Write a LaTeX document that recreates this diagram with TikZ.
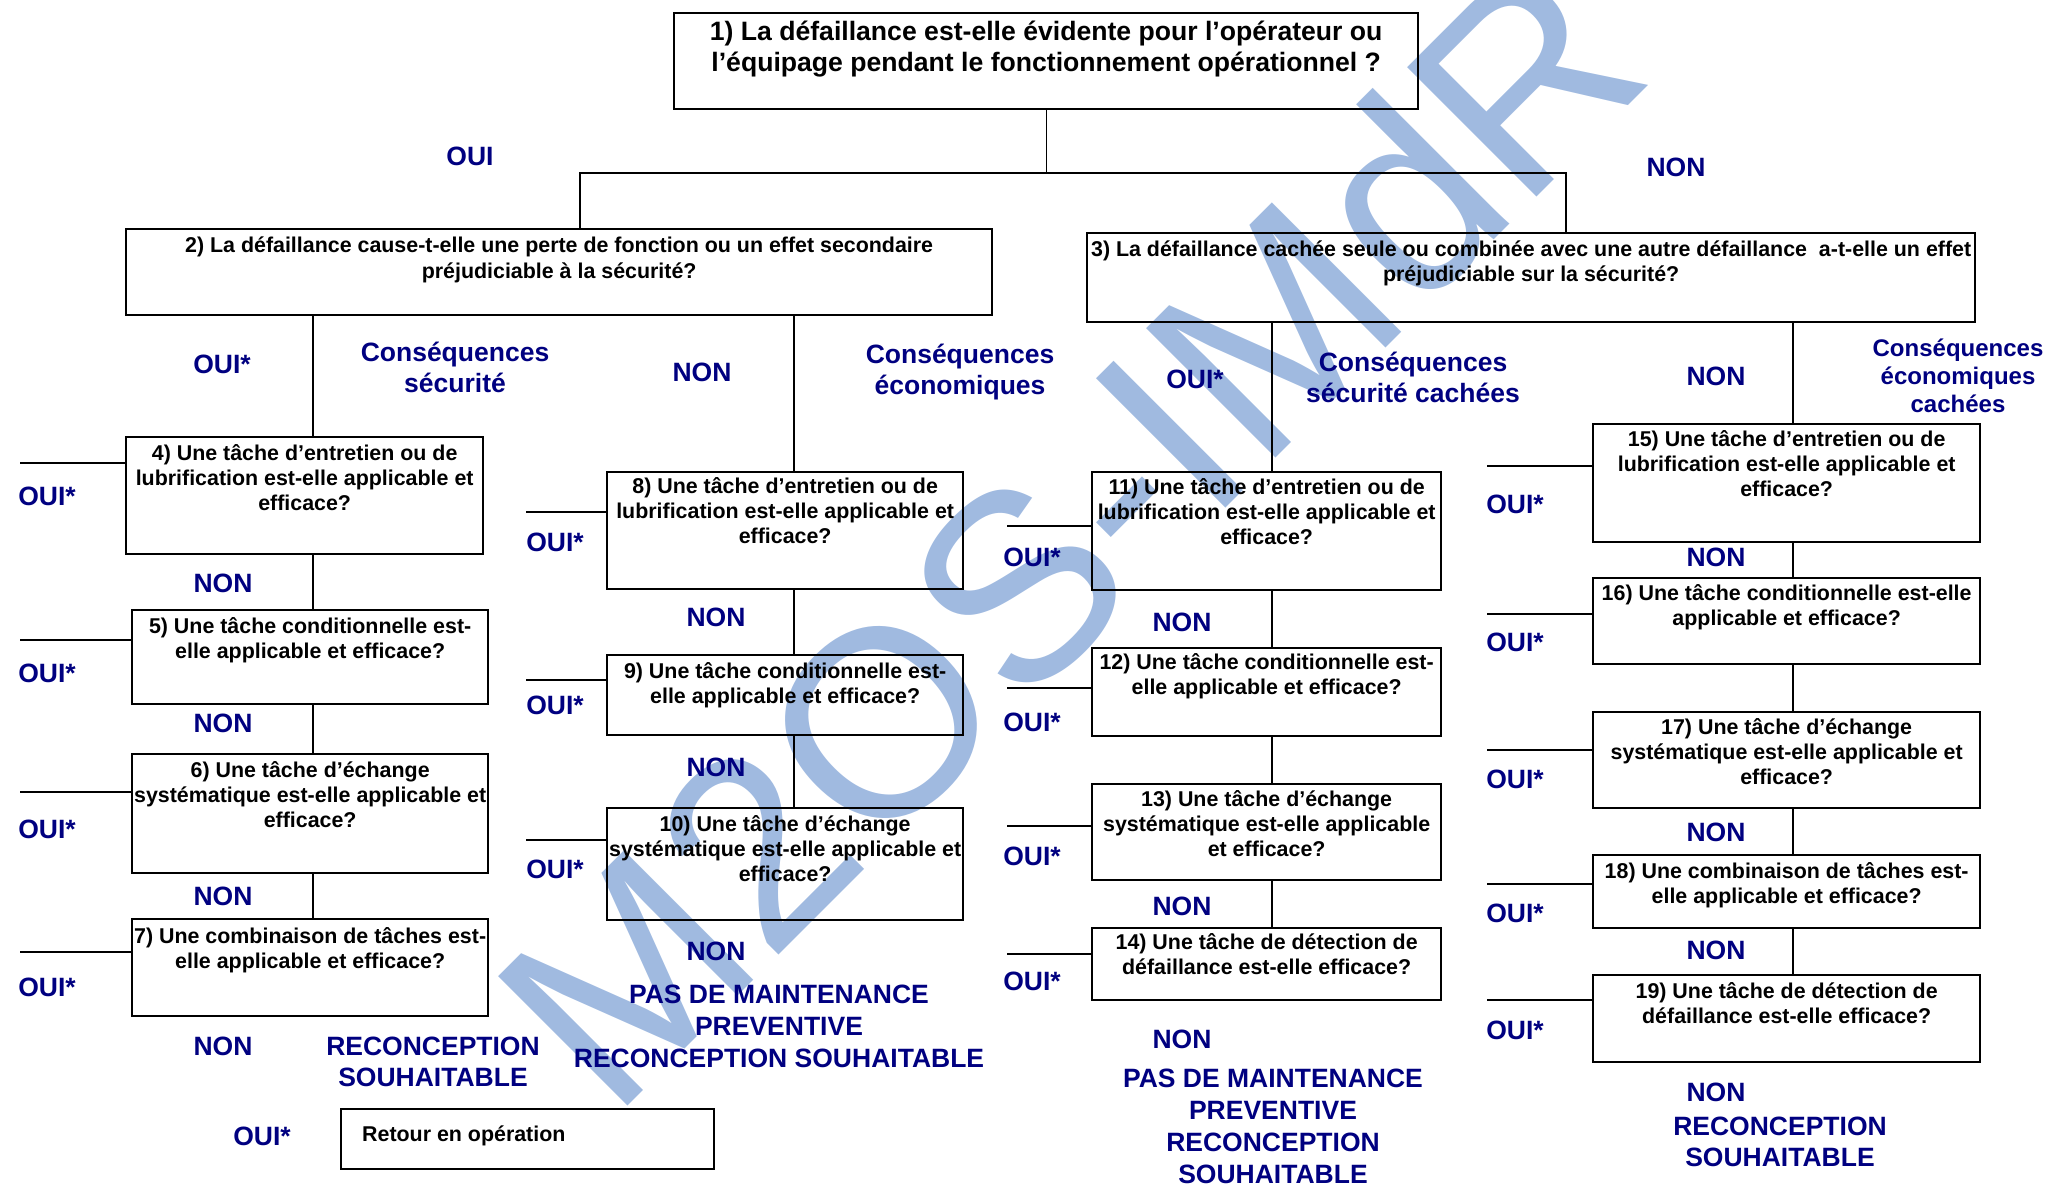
\documentclass[tikz,border=0pt]{standalone}
\usepackage{fontspec}
\setmainfont{Liberation Sans}
\definecolor{navy}{RGB}{0,0,128}
\definecolor{wmblue}{RGB}{160,186,224}
\newcommand\cl[1]{\vtop{\halign{\hfil##\hfil\cr#1\crcr}}}
\newcommand\boxfont{\fontsize{21.4bp}{25bp}\selectfont\bfseries}
\newcommand\labfont{\fontsize{26.5bp}{31bp}\selectfont\bfseries}
\tikzset{
  qb/.style n args={3}{draw, line width=2.3bp, inner sep=0pt, anchor=north west,
     minimum width=#1, text height=#2, text depth=#3, font=\boxfont},
  lab/.style={text=navy, font=\labfont, align=center, inner sep=0pt},
  biglab/.style={lab, font=\fontsize{26.5bp}{32bp}\selectfont\bfseries},
  conn/.style={line width=1.3bp},
  stub/.style={line width=1.8bp},
  wmark/.style={text=wmblue, font=\fontsize{266bp}{266bp}\selectfont, rotate=45, anchor=base, inner sep=0pt},
}
\begin{document}
\begin{tikzpicture}[x=1bp,y=-1bp]
\useasboundingbox (0,0) rectangle (2049,1183);
% watermark
\node[wmark] (wm) at (1135,599) {M2OS-IMdR};
% boxes
\node[qb={744bp}{27bp}{69bp}, font=\fontsize{26.6bp}{31bp}\selectfont\bfseries] (b1) at (673,12)
  {\cl{1) La défaillance est-elle évidente pour l’opérateur ou\cr l’équipage pendant le fonctionnement opérationnel ?}};
\node[qb={866bp}{23bp}{63bp}, font=\fontsize{21.4bp}{26bp}\selectfont\bfseries] (b2) at (125,228)
  {\cl{2) La défaillance cause-t-elle une perte de fonction ou un effet secondaire\cr préjudiciable à la sécurité?}};
\node[qb={888bp}{23bp}{66bp}] (b3) at (1086,232)
  {\cl{3) La défaillance cachée seule ou combinée avec une autre défaillance\ \ a-t-elle un effet\cr préjudiciable sur la sécurité?}};
\node[qb={357bp}{23bp}{94bp}] (b4) at (125,436)
  {\cl{4) Une tâche d’entretien ou de\cr lubrification est-elle applicable et\cr efficace?}};
\node[qb={356bp}{23bp}{71bp}] (b5) at (131,609)
  {\cl{5) Une tâche conditionnelle est-\cr elle applicable et efficace?}};
\node[qb={356bp}{23bp}{96bp}] (b6) at (131,753)
  {\cl{6) Une tâche d’échange\cr systématique est-elle applicable et\cr efficace?}};
\node[qb={356bp}{24bp}{73bp}] (b7) at (131,918)
  {\cl{7) Une combinaison de tâches est-\cr elle applicable et efficace?}};
\node[qb={356bp}{21bp}{96bp}] (b8) at (606,471)
  {\cl{8) Une tâche d’entretien ou de\cr lubrification est-elle applicable et\cr efficace?}};
\node[qb={356bp}{23bp}{57bp}] (b9) at (606,654)
  {\cl{9) Une tâche conditionnelle est-\cr elle applicable et efficace?}};
\node[qb={356bp}{23bp}{89bp}] (b10) at (606,807)
  {\cl{10) Une tâche d’échange\cr systématique est-elle applicable et\cr efficace?}};
\node[qb={349bp}{22bp}{96bp}] (b11) at (1091,471)
  {\cl{11) Une tâche d’entretien ou de\cr lubrification est-elle applicable et\cr efficace?}};
\node[qb={349bp}{21bp}{67bp}] (b12) at (1091,647)
  {\cl{12) Une tâche conditionnelle est-\cr elle applicable et efficace?}};
\node[qb={349bp}{22bp}{74bp}] (b13) at (1091,783)
  {\cl{13) Une tâche d’échange\cr systématique est-elle applicable\cr et efficace?}};
\node[qb={349bp}{21bp}{51bp}] (b14) at (1091,927)
  {\cl{14) Une tâche de détection de\cr défaillance est-elle efficace?}};
\node[qb={387bp}{22bp}{96bp}] (b15) at (1592,423)
  {\cl{15) Une tâche d’entretien ou de\cr lubrification est-elle applicable et\cr efficace?}};
\node[qb={387bp}{22bp}{64bp}] (b16) at (1592,577)
  {\cl{16) Une tâche conditionnelle est-elle\cr applicable et efficace?}};
\node[qb={387bp}{22bp}{74bp}] (b17) at (1592,711)
  {\cl{17) Une tâche d’échange\cr systématique est-elle applicable et\cr efficace?}};
\node[qb={387bp}{23bp}{50bp}] (b18) at (1592,854)
  {\cl{18) Une combinaison de tâches est-\cr elle applicable et efficace?}};
\node[qb={387bp}{23bp}{64bp}] (b19) at (1592,974)
  {\cl{19) Une tâche de détection de\cr défaillance est-elle efficace?}};
\node[qb={373bp}{32bp}{28bp}] (ret) at (340,1108)
  {\makebox[373bp][l]{\hspace{21bp}Retour en opération}};
% connectors
\coordinate (jy) at (0,173);
\coordinate (xL) at (580,0);
\coordinate (xR) at (1566,0);
\coordinate (cA) at (313,0);
\coordinate (cB) at (794,0);
\coordinate (cC) at (1272,0);
\coordinate (cD) at (1793,0);
\draw[conn] (b1.south) -- (b1.south |- jy);
\draw[conn] (b2.north -| xL) -- (xL |- jy) -- (xR |- jy) -- (b3.north -| xR);
\draw[conn] (b2.south -| cA) -- (b4.north -| cA);
\draw[conn] (b4.south -| cA) -- (b5.north -| cA);
\draw[conn] (b5.south -| cA) -- (b6.north -| cA);
\draw[conn] (b6.south -| cA) -- (b7.north -| cA);
\draw[conn] (b2.south -| cB) -- (b8.north -| cB);
\draw[conn] (b8.south -| cB) -- (b9.north -| cB);
\draw[conn] (b9.south -| cB) -- (b10.north -| cB);
\draw[conn] (b3.south -| cC) -- (b11.north -| cC);
\draw[conn] (b11.south -| cC) -- (b12.north -| cC);
\draw[conn] (b12.south -| cC) -- (b13.north -| cC);
\draw[conn] (b13.south -| cC) -- (b14.north -| cC);
\draw[conn] (b3.south -| cD) -- (b15.north -| cD);
\draw[conn] (b15.south -| cD) -- (b16.north -| cD);
\draw[conn] (b16.south -| cD) -- (b17.north -| cD);
\draw[conn] (b17.south -| cD) -- (b18.north -| cD);
\draw[conn] (b18.south -| cD) -- (b19.north -| cD);
% stubs
\coordinate (s4) at (20,463);   \draw[stub] (s4) -- (s4 -| b4.west);
\coordinate (s5) at (20,640);   \draw[stub] (s5) -- (s5 -| b5.west);
\coordinate (s6) at (20,792);   \draw[stub] (s6) -- (s6 -| b6.west);
\coordinate (s7) at (20,952);   \draw[stub] (s7) -- (s7 -| b7.west);
\coordinate (s8) at (526,512);  \draw[stub] (s8) -- (s8 -| b8.west);
\coordinate (s9) at (526,680);  \draw[stub] (s9) -- (s9 -| b9.west);
\coordinate (s10) at (526,840); \draw[stub] (s10) -- (s10 -| b10.west);
\coordinate (s11) at (1007,526); \draw[stub] (s11) -- (s11 -| b11.west);
\coordinate (s12) at (1007,688); \draw[stub] (s12) -- (s12 -| b12.west);
\coordinate (s13) at (1007,826); \draw[stub] (s13) -- (s13 -| b13.west);
\coordinate (s14) at (1007,954); \draw[stub] (s14) -- (s14 -| b14.west);
\coordinate (s15) at (1487,466); \draw[stub] (s15) -- (s15 -| b15.west);
\coordinate (s16) at (1487,614); \draw[stub] (s16) -- (s16 -| b16.west);
\coordinate (s17) at (1487,750); \draw[stub] (s17) -- (s17 -| b17.west);
\coordinate (s18) at (1487,884); \draw[stub] (s18) -- (s18 -| b18.west);
\coordinate (s19) at (1487,1000); \draw[stub] (s19) -- (s19 -| b19.west);
% labels
\node[lab] (t1) at (470,156) {OUI};
\node[lab] (t2) at (1676,167) {NON};
\node[lab] (t3) at (222,364) {OUI*};
\node[lab] (t4) at (455,367) {Conséquences\\sécurité};
\node[lab] (t5) at (702,372) {NON};
\node[lab] (t6) at (960,372) {Conséquences\\économiques};
\node[lab] (t7) at (1195,379) {OUI*};
\node[lab] (t8) at (1413,377) {Conséquences\\sécurité cachées};
\node[lab] (t9) at (1716,376) {NON};
\node[lab, font=\fontsize{24bp}{28bp}\selectfont\bfseries] (t10) at (1958,376) {Conséquences\\économiques\\cachées};
% column A
\node[lab] (a1) at (47,496) {OUI*};
\node[lab] (a2) at (47,673) {OUI*};
\node[lab] (a3) at (47,829) {OUI*};
\node[lab] (a4) at (47,987) {OUI*};
\node[lab] (a5) at (223,583) {NON};
\node[lab] (a6) at (223,723) {NON};
\node[lab] (a7) at (223,896) {NON};
\node[lab] (a8) at (223,1046) {NON};
\node[lab] (a9) at (433,1062) {RECONCEPTION\\SOUHAITABLE};
\node[lab] (a10) at (262,1136) {OUI*};
% column B
\node[lab] (bb1) at (555,542) {OUI*};
\node[lab] (bb2) at (555,705) {OUI*};
\node[lab] (bb3) at (555,869) {OUI*};
\node[lab] (bb4) at (716,617) {NON};
\node[lab] (bb5) at (716,767) {NON};
\node[lab] (bb6) at (716,951) {NON};
\node[biglab] (bb7) at (779,1026) {PAS DE MAINTENANCE\\PREVENTIVE\\RECONCEPTION SOUHAITABLE};
% column C
\node[lab] (c1) at (1032,557) {OUI*};
\node[lab] (c2) at (1032,722) {OUI*};
\node[lab] (c3) at (1032,856) {OUI*};
\node[lab] (c4) at (1032,981) {OUI*};
\node[lab] (c5) at (1182,622) {NON};
\node[lab] (c6) at (1182,906) {NON};
\node[lab] (c7) at (1182,1039) {NON};
\node[biglab] (c8) at (1273,1126) {PAS DE MAINTENANCE\\PREVENTIVE\\RECONCEPTION\\SOUHAITABLE};
% column D
\node[lab] (d1) at (1515,504) {OUI*};
\node[lab] (d2) at (1515,642) {OUI*};
\node[lab] (d3) at (1515,779) {OUI*};
\node[lab] (d4) at (1515,913) {OUI*};
\node[lab] (d5) at (1515,1030) {OUI*};
\node[lab] (d6) at (1716,557) {NON};
\node[lab] (d7) at (1716,832) {NON};
\node[lab] (d8) at (1716,950) {NON};
\node[lab] (d9) at (1716,1092) {NON};
\node[lab] (d10) at (1780,1142) {RECONCEPTION\\SOUHAITABLE};
\end{tikzpicture}
\end{document}
